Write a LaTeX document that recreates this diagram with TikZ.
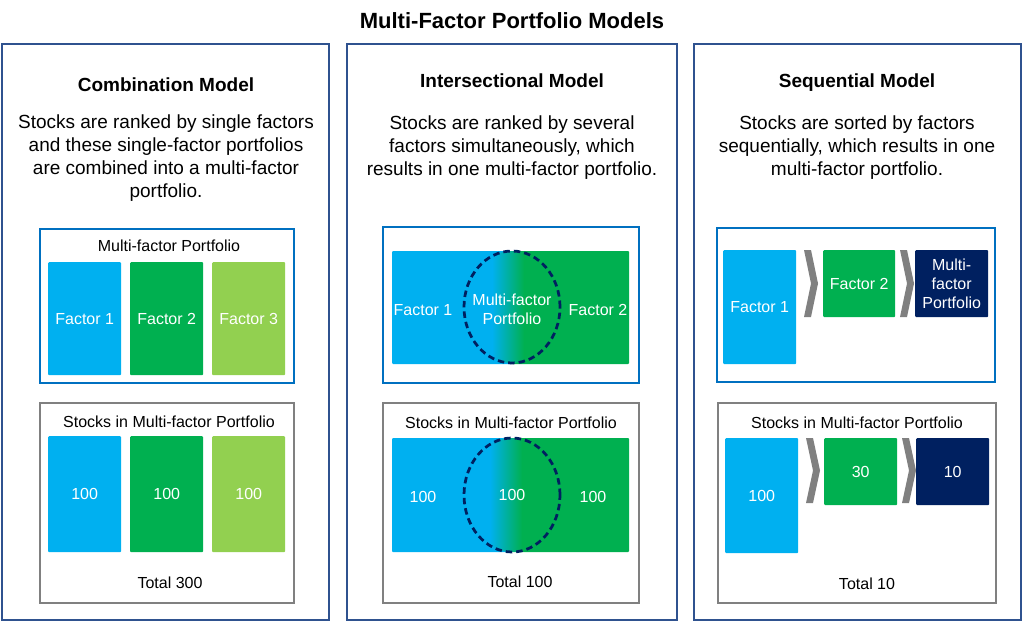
\documentclass[tikz,border=0pt]{standalone}
\usepackage{fontspec}
\setmainfont{Liberation Sans}
\usetikzlibrary{shapes.geometric}

\definecolor{panelblue}{RGB}{47,82,143}
\definecolor{frameblue}{RGB}{0,112,192}
\definecolor{framegray}{RGB}{128,128,128}
\definecolor{skyblue}{RGB}{0,176,240}
\definecolor{midgreen}{RGB}{0,176,80}
\definecolor{limegreen}{RGB}{146,208,80}
\definecolor{navy}{RGB}{0,32,96}

\begin{document}
\begin{tikzpicture}[x=1pt, y=-1pt,
  panel/.style={draw=panelblue, line width=2.75pt},
  bluebox/.style={draw=frameblue, line width=2.5pt},
  graybox/.style={draw=framegray, line width=2.5pt},
  tile/.style={anchor=north west, inner sep=0pt, rounded corners=1pt, text=white,
    align=center, font=\fontsize{16}{19}\selectfont},
  heading/.style={anchor=base, font=\bfseries\fontsize{19}{23}\selectfont},
  blurb/.style={anchor=base, align=center, font=\fontsize{19}{23}\selectfont},
  caption/.style={anchor=base, font=\fontsize{16}{19}\selectfont},
  venn/.style={ellipse, draw=navy, line width=2.75pt, dash pattern=on 6.5pt off 4pt,
    inner sep=0pt},
  wlabel/.style={text=white, align=center, font=\fontsize{16}{19}\selectfont}
]
\useasboundingbox (0,0) rectangle (1024,623);

\node[anchor=base, font=\bfseries\fontsize{22}{26}\selectfont] (title) at (512,28.5) {Multi-Factor Portfolio Models};

% outer panels
\draw[panel] (2,44) rectangle (329,620);
\draw[panel] (347,44) rectangle (677,620);
\draw[panel] (694,44) rectangle (1021,620);

% combination model
\node[heading] (combhead) at (166,91.5) {Combination Model};
\node[blurb] (combtext) at (166,197.5) {Stocks are ranked by single factors\\and these single-factor portfolios\\are combined into a multi-factor\\portfolio.};
\draw[bluebox] (40,229) rectangle (294,383);
\node[caption] (combport) at (169,251.5) {Multi-factor Portfolio};
\node[tile, fill=skyblue, minimum width=73pt, minimum height=113pt] (cf1) at (48,262) {Factor 1};
\node[tile, fill=midgreen, minimum width=73pt, minimum height=113pt] (cf2) at (130,262) {Factor 2};
\node[tile, fill=limegreen, minimum width=73pt, minimum height=113pt] (cf3) at (212,262) {Factor 3};
\draw[graybox] (40,403) rectangle (294,603);
\node[caption] (combstock) at (169,427) {Stocks in Multi-factor Portfolio};
\node[tile, fill=skyblue, minimum width=73pt, minimum height=116pt] (cs1) at (48,436) {100};
\node[tile, fill=midgreen, minimum width=73pt, minimum height=116pt] (cs2) at (130,436) {100};
\node[tile, fill=limegreen, minimum width=73pt, minimum height=116pt] (cs3) at (212,436) {100};
\node[caption] (combtotal) at (170,588.5) {Total 300};

% intersectional model
\node[heading] (interhead) at (512,87.5) {Intersectional Model};
\node[blurb] (intertext) at (512,175) {Stocks are ranked by several\\factors simultaneously, which\\results in one multi-factor portfolio.};
\draw[bluebox] (383,227) rectangle (639,383);
\fill[skyblue, rounded corners=1pt] (392,251) rectangle (512,364);
\fill[midgreen, rounded corners=1pt] (512,251) rectangle (629,364);
\begin{scope}
  \clip (512,307) ellipse [x radius=48, y radius=56];
  \shade[left color=skyblue, right color=midgreen] (492,251) rectangle (524,364);
\end{scope}
\node[wlabel] (if1) at (423,310) {Factor 1};
\node[wlabel] (if2) at (598,310) {Factor 2};
\node[venn, minimum width=96pt, minimum height=112pt] (ifm) at (512,307) {};
\node[wlabel] (ifmtext) at ([yshift=-2pt]ifm.center) {Multi-factor\\Portfolio};
\draw[graybox] (383,403) rectangle (639,603);
\node[caption] (interstock) at (511,428) {Stocks in Multi-factor Portfolio};
\fill[skyblue, rounded corners=1pt] (392,438) rectangle (512,552);
\fill[midgreen, rounded corners=1pt] (512,438) rectangle (629,552);
\begin{scope}
  \clip (512,495) ellipse [x radius=48, y radius=57];
  \shade[left color=skyblue, right color=midgreen] (490,438) rectangle (522,552);
\end{scope}
\node[wlabel] (is1) at (423,497) {100};
\node[wlabel] (is3) at (593,497) {100};
\node[venn, minimum width=96pt, minimum height=114pt] (is2) at (512,495) {};
\node[wlabel] (is2text) at (is2.center) {100};
\node[caption] (intertotal) at (520,587) {Total 100};

% sequential model
\node[heading] (seqhead) at (857,88) {Sequential Model};
\node[blurb] (seqtext) at (857,175.5) {Stocks are sorted by factors\\sequentially, which results in one\\multi-factor portfolio.};
\draw[bluebox] (717,228) rectangle (995,382);
\node[tile, fill=skyblue, minimum width=73pt, minimum height=114pt] (sf1) at (723,250) {Factor 1};
\node[tile, fill=midgreen, minimum width=72pt, minimum height=67pt] (sf2) at (823,250) {Factor 2};
\node[tile, fill=navy, minimum width=73pt, minimum height=67pt] (sfm) at (915,250) {Multi-\\factor\\Portfolio};
\draw[graybox] (718,403) rectangle (996,603);
\node[caption] (seqstock) at (857,428) {Stocks in Multi-factor Portfolio};
\node[tile, fill=skyblue, minimum width=73pt, minimum height=115pt] (ss1) at (725,438) {100};
\node[tile, fill=midgreen, minimum width=73pt, minimum height=67pt] (ss2) at (824,438) {30};
\node[tile, fill=navy, minimum width=73pt, minimum height=67pt] (ss3) at (916,438) {10};
\node[caption] (seqtotal) at (867,589) {Total 10};

% chevrons between the steps
\foreach \cx/\ty/\by in {804/250/317, 900/250/317, 806/438/503, 902/438/503}
  \fill[framegray] (\cx,\ty) -- (\cx+7,\ty) -- (\cx+14,{(\ty+\by)/2}) -- (\cx+7,\by)
    -- (\cx,\by) -- (\cx+7,{(\ty+\by)/2}) -- cycle;
\end{tikzpicture}
\end{document}
